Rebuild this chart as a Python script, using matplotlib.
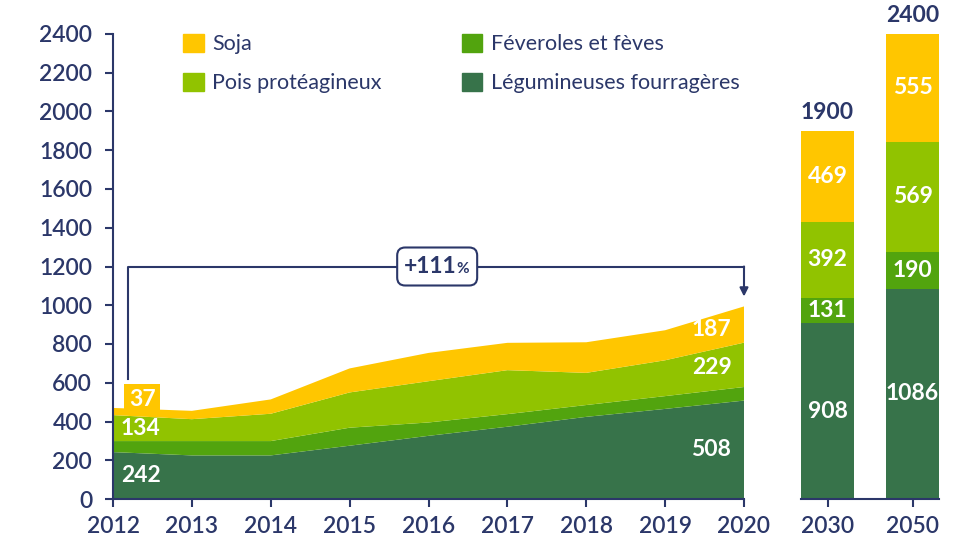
import numpy as np
import matplotlib
matplotlib.use("Agg")
import matplotlib.pyplot as plt
from matplotlib.patches import Patch, FancyBboxPatch
from matplotlib.transforms import IdentityTransform

plt.rcParams['font.family'] = ['Lato', 'DejaVu Sans']

# Surfaces (milliers d'hectares)
annees = [2012, 2013, 2014, 2015, 2016, 2017, 2018, 2019, 2020]
legumineuses = [242, 225, 225, 275, 326, 373, 424, 465, 508]
feveroles = [57, 74, 74, 93, 69, 65, 61, 66, 70]
pois = [134, 113, 141, 182, 213, 227, 166, 185, 229]
soja = [37, 43, 74, 124, 146, 141, 158, 155, 187]

horizons = ['2030', '2050']
leg_proj = [908, 1086]
fev_proj = [131, 190]
pois_proj = [392, 569]
soja_proj = [469, 555]

c_soja = '#ffc600'
c_pois = '#91c300'
c_fev = '#52a40e'
c_leg = '#37734a'
navy = '#2b3769'
fs = 16.5

fig = plt.figure(figsize=(9.67, 5.42), dpi=100)
W, H = 967, 542
y0, y1 = 499, 34
ax = fig.add_axes([113 / W, (H - y0) / H, (744 - 113) / W, (y0 - y1) / H])
ax2 = fig.add_axes([801 / W, (H - y0) / H, (939 - 801) / W, (y0 - y1) / H])

# aires empilées 2012-2020
ax.stackplot(annees, legumineuses, feveroles, pois, soja,
             colors=[c_leg, c_fev, c_pois, c_soja], linewidth=0)
ax.set_xlim(2012, 2020)
ax.set_ylim(0, 2400)
ax.set_yticks(range(0, 2401, 200))
ax.set_xticks(annees)
for s in ['top', 'right']:
    ax.spines[s].set_visible(False)
for s in ['left', 'bottom']:
    ax.spines[s].set_color(navy)
    ax.spines[s].set_linewidth(1.5)
ax.tick_params(colors=navy, labelsize=fs, width=1.5, length=6, pad=6)
ax.tick_params(axis='y', pad=9)
for lab in ax.get_xticklabels() + ax.get_yticklabels():
    lab.set_fontweight('semibold')

# barres 2030 / 2050
xb = np.arange(len(horizons))
w = 53 / 85
bas = np.zeros(len(horizons))
for vals, col in [(leg_proj, c_leg), (fev_proj, c_fev), (pois_proj, c_pois), (soja_proj, c_soja)]:
    ax2.bar(xb, vals, w, bottom=bas, color=col, linewidth=0)
    for xi, b, v in zip(xb, bas, vals):
        ax2.text(xi, b + v / 2, str(v), ha='center', va='center', color='white',
                 fontsize=fs, fontweight='bold')
    bas = bas + np.array(vals)
for xi, t in zip(xb, bas):
    ax2.annotate(f'{int(t)}', (xi, t), xytext=(0, 13), textcoords='offset points',
                 ha='center', va='center', color=navy, fontsize=fs, fontweight='bold',
                 annotation_clip=False)
ax2.set_xlim(-w / 2, len(horizons) - 1 + w / 2)
ax2.set_ylim(0, 2400)
ax2.set_xticks(xb, horizons)
ax2.set_yticks([])
for s in ['top', 'right', 'left']:
    ax2.spines[s].set_visible(False)
ax2.spines['bottom'].set_color(navy)
ax2.spines['bottom'].set_linewidth(1.5)
ax2.tick_params(colors=navy, labelsize=fs, width=1.5, length=6, pad=6)
for lab in ax2.get_xticklabels():
    lab.set_fontweight('semibold')

# étiquettes de valeurs 2012 et 2020
ax.text(2012.35, legumineuses[0] / 2, str(legumineuses[0]), ha='center', va='center',
        color='white', fontsize=fs, fontweight='bold')
ax.text(2012.35, legumineuses[0] + feveroles[0] + pois[0] / 2, str(pois[0]), ha='center',
        va='center', color='white', fontsize=fs, fontweight='bold')
total0 = legumineuses[0] + feveroles[0] + pois[0] + soja[0]
ax.text(2012.37, total0 + 45, str(soja[0]), ha='center', va='center', color='white',
        fontsize=fs, fontweight='bold',
        bbox=dict(boxstyle='square,pad=0.2', fc=c_soja, ec='none'))

cum1 = np.array(legumineuses) + np.array(feveroles)
cum2 = cum1 + np.array(pois)
cum3 = cum2 + np.array(soja)
xl = 2019.77
ax.text(2019.84, legumineuses[-1] / 2, str(legumineuses[-1]), ha='right', va='center',
        color='white', fontsize=fs, fontweight='bold')
ax.text(2019.84, (np.interp(xl, annees, cum1) + np.interp(xl, annees, cum2)) / 2, str(pois[-1]),
        ha='right', va='center', color='white', fontsize=fs, fontweight='bold')
ax.text(2019.84, (np.interp(xl, annees, cum2) + np.interp(xl, annees, cum3)) / 2, str(soja[-1]),
        ha='right', va='center', color='white', fontsize=fs, fontweight='bold')

# accolade d'évolution 2012 -> 2020
hy = 1200
xm = 2016.11
ax.plot([2012.19, 2012.19, 2020], [620, hy, hy], color=navy, lw=1.5, clip_on=False)
ax.annotate('', xy=(2020, 1045), xytext=(2020, hy),
            arrowprops=dict(arrowstyle='-|>,head_length=0.5,head_width=0.25',
                            color=navy, lw=1.5, shrinkA=0, shrinkB=0))
evol = round((cum3[-1] / cum3[0] - 1) * 100)
cx, cy = ax.transData.transform((xm, hy))
boite = FancyBboxPatch((cx - 40, cy - 19), 80, 38, boxstyle='round,pad=0,rounding_size=8',
                       fc='white', ec=navy, lw=1.5, transform=IdentityTransform(),
                       zorder=4, clip_on=False)
ax.add_patch(boite)
ax.annotate(f'+{evol}', (xm, hy), xytext=(14, 0), textcoords='offset points',
            ha='right', va='center', color=navy, fontsize=fs, fontweight='bold', zorder=5)
ax.annotate('%', (xm, hy), xytext=(14, -1.5), textcoords='offset points',
            ha='left', va='center', color=navy, fontsize=11, fontweight='bold', zorder=5)

# légende
handles = [Patch(color=c_soja), Patch(color=c_pois), Patch(color=c_fev), Patch(color=c_leg)]
labels = ['Soja', 'Pois protéagineux', 'Féveroles et fèves', 'Légumineuses fourragères']
leg = fig.legend(handles, labels, ncol=2, loc='upper left', bbox_to_anchor=(164 / W, 1 - 15 / H),
                 frameon=False, fontsize=15.5, handlelength=0.95, handleheight=0.85,
                 handletextpad=0.4, labelspacing=0.88, columnspacing=3.7)
for t in leg.get_texts():
    t.set_color(navy)

fig.savefig('out.png', dpi=100)
